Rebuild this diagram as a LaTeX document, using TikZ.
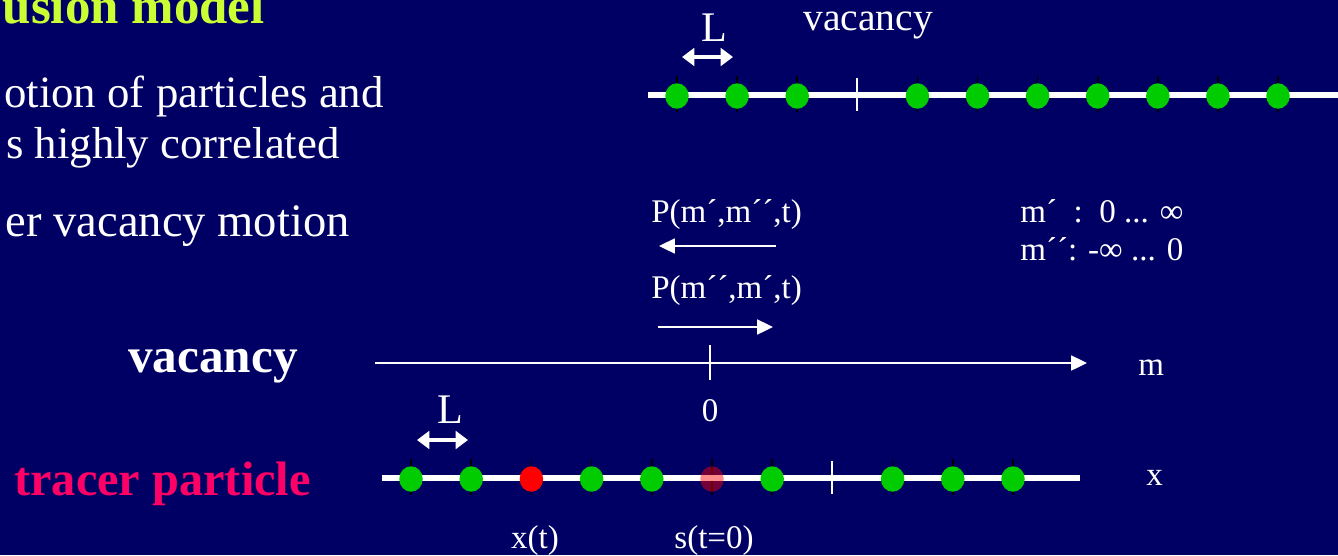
\documentclass[tikz,border=0pt]{standalone}
\usepackage{fontspec}
\setmainfont{Liberation Serif}
\usetikzlibrary{arrows.meta, shapes.geometric, positioning}
\definecolor{SlideNavy}{RGB}{0, 0, 100}
\definecolor{TitleLime}{RGB}{204, 255, 51}
\definecolor{TracerPink}{RGB}{255, 0, 102}
\definecolor{SiteGreen}{RGB}{0, 204, 0}

\begin{document}
\begin{tikzpicture}[x=0.02cm, y=-0.02cm,
        site/.style={ellipse, fill=SiteGreen, minimum width=0.47cm, minimum height=0.51cm, inner sep=0pt},
        sitetick/.style={black, line width=1pt},
        lattice/.style={white, line width=3.4pt},
        vactick/.style={white, line width=1.2pt},
        lspan/.style={white, line width=1.8pt, {Triangle[length=7pt,width=10pt]}-{Triangle[length=7pt,width=10pt]}},
        axisarrow/.style={white, line width=1.1pt, -{Triangle[length=9pt,width=8.5pt]}},
        body/.style={white, inner sep=0pt, font=\fontsize{25.5}{30}\selectfont},
        small/.style={white, inner sep=0pt, font=\fontsize{18.8}{22}\selectfont}
    ]
    \useasboundingbox (0,0) rectangle (1338,555);
    \fill[SlideNavy] (0,0) rectangle (1338,555);

    % text on the left
    \node[body, TitleLime, anchor=base east, font=\fontsize{29}{34}\selectfont\bfseries] (title) at (265,23) {usion model};
    \node[body, anchor=base east] (line1) at (384,107) {otion of particles and};
    \node[body, anchor=base east] (line2) at (340,158) {s highly correlated};
    \node[body, anchor=base east, font=\fontsize{26.5}{30}\selectfont] (line3) at (350,236) {er vacancy motion};
    \node[body, anchor=base east, font=\fontsize{28}{34}\selectfont\bfseries] (vaclabel) at (298,372) {vacancy};
    \node[body, TracerPink, anchor=base west, font=\fontsize{27.5}{34}\selectfont\bfseries] (tracerlabel) at (14,495) {tracer particle};

    % upper lattice
    \coordinate (topL) at (648,95);
    \coordinate (topR) at (1338,95);
    \coordinate (topvac) at (857,95);
    \foreach \k in {0,1,2,4,5,6,7,8,9,10}
        \draw[sitetick] (677+60.1*\k,76) -- (677+60.1*\k,112);
    \draw[lattice] (topL) -- (topR);
    \draw[vactick] ([yshift=0.34cm]topvac) -- ([yshift=-0.31cm]topvac);
    \foreach \k in {0,1,2,4,5,6,7,8,9,10}
        \node[site] (top\k) at (677+60.1*\k,96) {};
    \node[white, anchor=base, font=\fontsize{24}{28}\selectfont] (Ltop) at (714,41) {L};
    \coordinate (LtopA) at (682,57);
    \coordinate (LtopB) at (733,57);
    \draw[lspan] (LtopA) -- (LtopB);
    \node[white, anchor=base west, inner sep=0pt, font=\fontsize{22.5}{26}\selectfont] (vactop) at (803,30) {vacancy};

    % transition probabilities
    \node[small, anchor=base west] (Pfwd) at (651,222) {P(m´,m´´,t)};
    \coordinate (PfwdA) at (776,246);
    \coordinate (PfwdB) at (659,246);
    \draw[axisarrow] (PfwdA) -- (PfwdB);
    \node[small, anchor=base west] (Pbwd) at (651,298) {P(m´´,m´,t)};
    \coordinate (PbwdA) at (658,327);
    \coordinate (PbwdB) at (773,327);
    \draw[axisarrow] (PbwdA) -- (PbwdB);
    \node[small, anchor=base west] (range1) at (1020,222) {m´\ \ :\ \ 0 ... ∞};
    \node[small, anchor=base west] (range2) at (1020,260) {m´´: -∞ ... 0};

    % vacancy axis
    \coordinate (axL) at (375,363);
    \coordinate (axR) at (1087,363);
    \coordinate (ax0) at (710,363);
    \draw[axisarrow] (axL) -- (axR);
    \draw[vactick] ([yshift=0.36cm]ax0) -- ([yshift=-0.34cm]ax0);
    \node[small, anchor=base west] (mlabel) at (1138,375) {m};
    \node[small, anchor=base] (zero) at (710,421) {0};

    % lower lattice with the tracer
    \coordinate (botL) at (382,478);
    \coordinate (botR) at (1080,478);
    \coordinate (botvac) at (832,478);
    \foreach \k in {0,1,2,3,4,5,6,8,9,10}
        \draw[sitetick] (411+60.2*\k,459) -- (411+60.2*\k,495);
    \draw[lattice] (botL) -- (botR);
    \draw[vactick] ([yshift=0.34cm]botvac) -- ([yshift=-0.31cm]botvac);
    \foreach \k in {0,1,3,4,6,8,9,10}
        \node[site] (bot\k) at (411+60.2*\k,479) {};
    \node[site, fill=red] (bot2) at (531.4,479) {};
    \node[site, fill=red, fill opacity=0.45] (bot5) at (712,479) {};
    \node[white, anchor=base, font=\fontsize{24}{28}\selectfont] (Lbot) at (450,423) {L};
    \coordinate (LbotA) at (417,440);
    \coordinate (LbotB) at (468,440);
    \draw[lspan] (LbotA) -- (LbotB);
    \node[small, anchor=base west] (xlabel) at (1146,485) {x};
    \node[small, anchor=base] (xt) at (535,548) {x(t)};
    \node[small, anchor=base] (s0) at (714,548) {s(t=0)};
\end{tikzpicture}
\end{document}
